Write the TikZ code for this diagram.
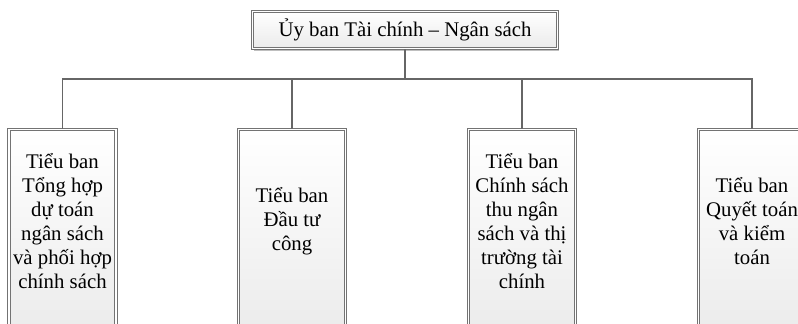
\documentclass[tikz,border=0pt]{standalone}
\usepackage{fontspec}
\setmainfont{Liberation Serif}
\begin{document}
\begin{tikzpicture}[x=1pt,y=-1pt,
  frame/.style={draw=black!55, line width=1pt, double=white, double distance=1.1pt,
    top color=white, bottom color=black!8, inner sep=0pt},
  unitbox/.style={frame, minimum width=107, minimum height=210, anchor=north},
  label/.style={align=center, font=\fontsize{20.8}{24}\selectfont, inner sep=0pt},
  link/.style={draw=black!60, line width=1.1pt}]
\useasboundingbox (0,0) rectangle (798,324);
\clip (0,0) rectangle (798,324);
\fill[white] (0,0) rectangle (798,324);
% top box
\fill[black!25] (254,13) rectangle (559,51);
\node[frame, minimum width=305, minimum height=37, anchor=north west] (top) at (252,11) {};
\node[label] (ttop) at (top.center) {Ủy ban Tài chính – Ngân sách};
% sub boxes
\node[unitbox] (b1) at (62.5,129) {};
\node[unitbox] (b2) at (292,129) {};
\node[unitbox] (b3) at (522,129) {};
\node[unitbox] (b4) at (752,129) {};
\node[label] (t1) at (62.5,221) {Tiểu ban\\Tổng hợp\\dự toán\\ngân sách\\và phối hợp\\chính sách};
\node[label] (t2) at (292,221) {Tiểu ban\\Đầu tư\\công};
\node[label] (t3) at (522,221) {Tiểu ban\\Chính sách\\thu ngân\\sách và thị\\trường tài\\chính};
\node[label] (t4) at (752,221) {Tiểu ban\\Quyết toán\\và kiểm\\toán};
% connectors
\coordinate (bus) at (405,79);
\draw[link] (top.south -| bus) -- (bus);
\draw[link] (bus) -| (b1.north);
\draw[link] (bus) -| (b2.north);
\draw[link] (bus) -| (b3.north);
\draw[link] (bus) -| (b4.north);
\end{tikzpicture}
\end{document}
